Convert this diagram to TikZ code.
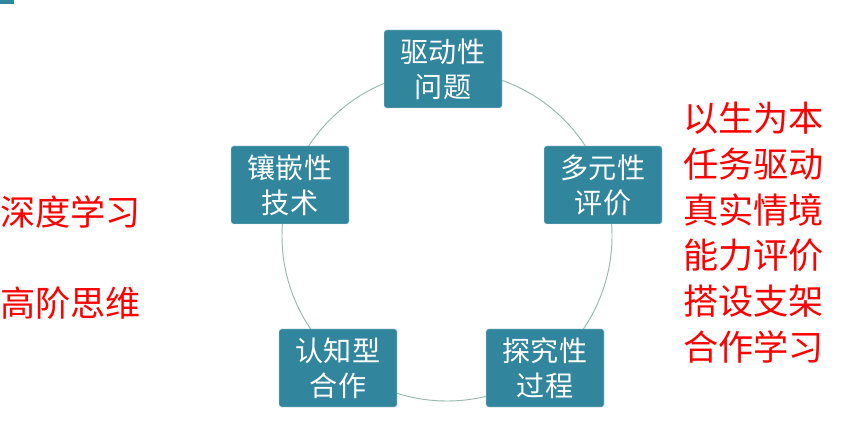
\documentclass[tikz,border=0pt]{standalone}
\usepackage{fontspec}
\newfontfamily\cjk{Noto Sans CJK SC}
\definecolor{BoxTeal}{HTML}{31859C}
\definecolor{RingGrey}{HTML}{9BB7B0}
\definecolor{NoteRed}{HTML}{FF0000}
\usetikzlibrary{positioning}

\begin{document}
\begin{tikzpicture}[x=0.03cm, y=-0.03cm,
  % Kasten im Ring
  ringbox/.style={
    draw=white!80!BoxTeal,
    fill=BoxTeal,
    minimum width=118*0.03cm,
    minimum height=78*0.03cm,
    rounded corners=2pt,
    font=\cjk\fontsize{24}{30}\selectfont,
    text=white,
    align=center,
    inner sep=0pt
  },
  % rote Stichworte
  note/.style={
    font=\cjk\fontsize{30}{39}\selectfont,
    text=NoteRed,
    anchor=west,
    inner sep=0pt
  }
]

% Hintergrund
\fill[white] (0,0) rectangle (841,432);
\fill[BoxTeal] (0,0) rectangle (14,4);

% Ring
\draw[RingGrey, line width=0.8pt] (447,236) circle (165);

% Kaesten
\node[ringbox] (drive) at (443,69) {驱动性\\问题};
\node[ringbox] (eval) at (603,185) {多元性\\评价};
\node[ringbox] (tech) at (290,185) {镶嵌性\\技术};
\node[ringbox] (coop) at (338,368) {认知型\\合作};
\node[ringbox] (explore) at (545,368) {探究性\\过程};

% links
\node[note] (deep) at (0,212) {深度学习};
\node[note] (high) at (0,303) {高阶思维};

% rechts
\node[note, align=left, anchor=north west] (list) at (683,102)
  {以生为本\\任务驱动\\真实情境\\能力评价\\搭设支架\\合作学习};

\end{tikzpicture}
\end{document}
